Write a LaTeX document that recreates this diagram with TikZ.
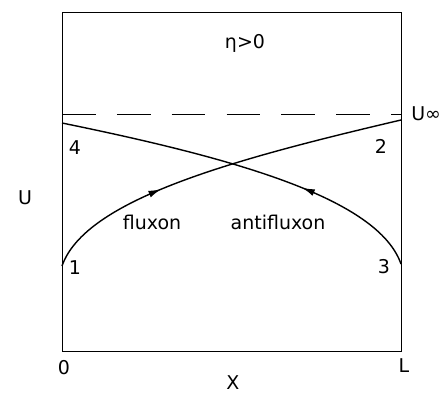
\documentclass[tikz,border=0pt]{standalone}
\usepackage{fontspec}
\setmainfont{DejaVu Sans}
\usetikzlibrary{arrows.meta, decorations.markings}
\tikzstyle{curve}=[line width=1pt, color=black]
\tikzstyle{midarrow}=[postaction={decorate, decoration={markings,
  mark=at position 0.34 with {\arrow{Latex[length=9pt,width=5pt]}}}}]

\begin{document}
\begin{tikzpicture}[x=0.025cm, y=-0.025cm,
  lbl/.style={inner sep=0pt, font=\fontsize{13.5}{16}\selectfont}
]
\useasboundingbox (0,0) rectangle (448,395);
% frame
\coordinate (bl) at (62,351);
\coordinate (tr) at (401,12);
\draw[line width=0.7pt] (bl) rectangle (tr);

% asymptote
\coordinate (uinfl) at (62,114);
\coordinate (uinfr) at (401,114);
\draw[line width=0.7pt, dash pattern=on 24 off 15] (uinfl) -- (uinfr);
\node[lbl, anchor=west] (uinf) at (411,114) {U∞};

% end points
\coordinate (p1) at (62,266);
\coordinate (p2) at (401,120);
\coordinate (p3) at (401,264);
\coordinate (p4) at (62,123);

% fluxon and antifluxon
\draw[curve, midarrow] (p1) .. controls (85,200) and (230,160) .. (p2);
\draw[curve, midarrow] (p3) .. controls (378,198) and (233,158) .. (p4);

\node[lbl] (eta) at (245,43) {η>0};
\node[lbl] (fluxon) at (152,222) {fluxon};
\node[lbl] (antifluxon) at (278,222) {antifluxon};
\node[lbl] (n1) at (75,268) {1};
\node[lbl] (n2) at (381,146) {2};
\node[lbl] (n3) at (384,267) {3};
\node[lbl] (n4) at (75,148) {4};

% axes
\node[lbl] (uax) at (25,198) {U};
\node[lbl] (zero) at (64,368) {0};
\node[lbl] (ell) at (404,366) {L};
\node[lbl] (xax) at (233,383) {X};
\end{tikzpicture}
\end{document}
